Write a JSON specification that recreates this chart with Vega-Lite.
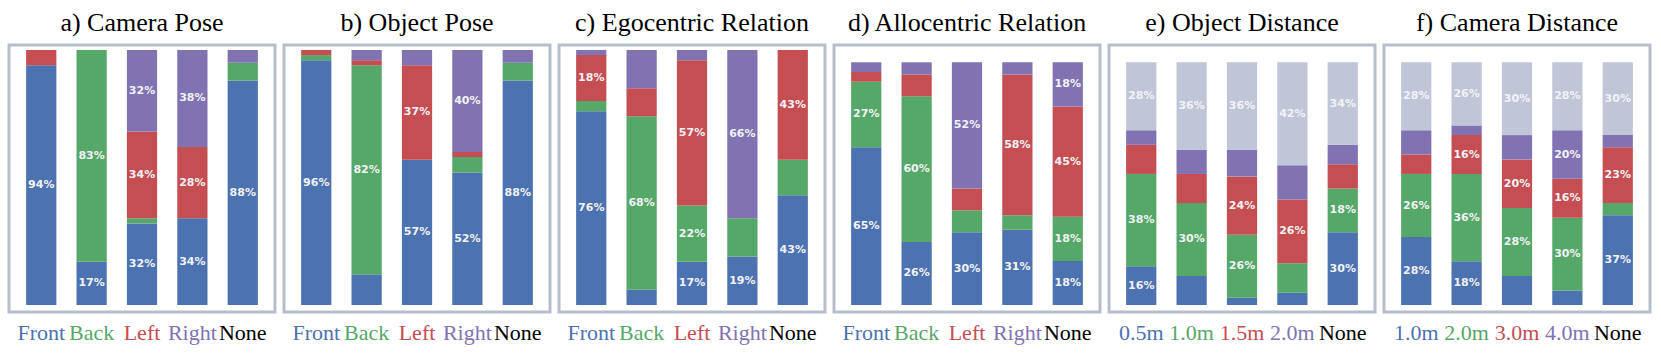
{
  "$schema": "https://vega.github.io/schema/vega-lite/v6.json",
  "padding": {"left": 7, "top": 8, "right": 0, "bottom": 0},
  "spacing": 9,
  "bounds": "flush",
  "background": "white",
  "config": {
    "view": {"stroke": "#b6bdcb", "strokeWidth": 3},
    "title": {"font": "Liberation Serif, DejaVu Serif, serif", "fontSize": 26, "fontWeight": "normal", "color": "black", "offset": 9, "anchor": "middle", "baseline": "alphabetic"},
    "text": {"font": "DejaVu Sans", "fontWeight": "bold", "fontSize": 11, "color": "#f2f2f6"}
  },
  "resolve": {"scale": {"color": "independent", "x": "independent", "y": "independent"}},
  "datasets": {
    "rows": [
      {"p": "a", "cat": "Front", "seg": "Front", "v": 0.94},
      {"p": "a", "cat": "Front", "seg": "Left", "v": 0.06},
      {"p": "a", "cat": "Back", "seg": "Front", "v": 0.17},
      {"p": "a", "cat": "Back", "seg": "Back", "v": 0.83},
      {"p": "a", "cat": "Left", "seg": "Front", "v": 0.32},
      {"p": "a", "cat": "Left", "seg": "Back", "v": 0.02},
      {"p": "a", "cat": "Left", "seg": "Left", "v": 0.34},
      {"p": "a", "cat": "Left", "seg": "Right", "v": 0.32},
      {"p": "a", "cat": "Right", "seg": "Front", "v": 0.34},
      {"p": "a", "cat": "Right", "seg": "Left", "v": 0.28},
      {"p": "a", "cat": "Right", "seg": "Right", "v": 0.38},
      {"p": "a", "cat": "None", "seg": "Front", "v": 0.88},
      {"p": "a", "cat": "None", "seg": "Back", "v": 0.07},
      {"p": "a", "cat": "None", "seg": "Right", "v": 0.05},

      {"p": "b", "cat": "Front", "seg": "Front", "v": 0.96},
      {"p": "b", "cat": "Front", "seg": "Back", "v": 0.02},
      {"p": "b", "cat": "Front", "seg": "Left", "v": 0.02},
      {"p": "b", "cat": "Back", "seg": "Front", "v": 0.12},
      {"p": "b", "cat": "Back", "seg": "Back", "v": 0.82},
      {"p": "b", "cat": "Back", "seg": "Left", "v": 0.02},
      {"p": "b", "cat": "Back", "seg": "Right", "v": 0.04},
      {"p": "b", "cat": "Left", "seg": "Front", "v": 0.57},
      {"p": "b", "cat": "Left", "seg": "Left", "v": 0.37},
      {"p": "b", "cat": "Left", "seg": "Right", "v": 0.06},
      {"p": "b", "cat": "Right", "seg": "Front", "v": 0.52},
      {"p": "b", "cat": "Right", "seg": "Back", "v": 0.06},
      {"p": "b", "cat": "Right", "seg": "Left", "v": 0.02},
      {"p": "b", "cat": "Right", "seg": "Right", "v": 0.40},
      {"p": "b", "cat": "None", "seg": "Front", "v": 0.88},
      {"p": "b", "cat": "None", "seg": "Back", "v": 0.07},
      {"p": "b", "cat": "None", "seg": "Right", "v": 0.05},

      {"p": "c", "cat": "Front", "seg": "Front", "v": 0.76},
      {"p": "c", "cat": "Front", "seg": "Back", "v": 0.04},
      {"p": "c", "cat": "Front", "seg": "Left", "v": 0.18},
      {"p": "c", "cat": "Front", "seg": "Right", "v": 0.02},
      {"p": "c", "cat": "Back", "seg": "Front", "v": 0.06},
      {"p": "c", "cat": "Back", "seg": "Back", "v": 0.68},
      {"p": "c", "cat": "Back", "seg": "Left", "v": 0.11},
      {"p": "c", "cat": "Back", "seg": "Right", "v": 0.15},
      {"p": "c", "cat": "Left", "seg": "Front", "v": 0.17},
      {"p": "c", "cat": "Left", "seg": "Back", "v": 0.22},
      {"p": "c", "cat": "Left", "seg": "Left", "v": 0.57},
      {"p": "c", "cat": "Left", "seg": "Right", "v": 0.04},
      {"p": "c", "cat": "Right", "seg": "Front", "v": 0.19},
      {"p": "c", "cat": "Right", "seg": "Back", "v": 0.15},
      {"p": "c", "cat": "Right", "seg": "Right", "v": 0.66},
      {"p": "c", "cat": "None", "seg": "Front", "v": 0.43},
      {"p": "c", "cat": "None", "seg": "Back", "v": 0.14},
      {"p": "c", "cat": "None", "seg": "Left", "v": 0.43},

      {"p": "d", "cat": "Front", "seg": "Front", "v": 0.65},
      {"p": "d", "cat": "Front", "seg": "Back", "v": 0.27},
      {"p": "d", "cat": "Front", "seg": "Left", "v": 0.04},
      {"p": "d", "cat": "Front", "seg": "Right", "v": 0.04},
      {"p": "d", "cat": "Back", "seg": "Front", "v": 0.26},
      {"p": "d", "cat": "Back", "seg": "Back", "v": 0.60},
      {"p": "d", "cat": "Back", "seg": "Left", "v": 0.09},
      {"p": "d", "cat": "Back", "seg": "Right", "v": 0.05},
      {"p": "d", "cat": "Left", "seg": "Front", "v": 0.30},
      {"p": "d", "cat": "Left", "seg": "Back", "v": 0.09},
      {"p": "d", "cat": "Left", "seg": "Left", "v": 0.09},
      {"p": "d", "cat": "Left", "seg": "Right", "v": 0.52},
      {"p": "d", "cat": "Right", "seg": "Front", "v": 0.31},
      {"p": "d", "cat": "Right", "seg": "Back", "v": 0.06},
      {"p": "d", "cat": "Right", "seg": "Left", "v": 0.58},
      {"p": "d", "cat": "Right", "seg": "Right", "v": 0.05},
      {"p": "d", "cat": "None", "seg": "Front", "v": 0.18},
      {"p": "d", "cat": "None", "seg": "Back", "v": 0.18},
      {"p": "d", "cat": "None", "seg": "Left", "v": 0.45},
      {"p": "d", "cat": "None", "seg": "Right", "v": 0.18},

      {"p": "e", "cat": "0.5m", "seg": "0.5m", "v": 0.16},
      {"p": "e", "cat": "0.5m", "seg": "1.0m", "v": 0.38},
      {"p": "e", "cat": "0.5m", "seg": "1.5m", "v": 0.12},
      {"p": "e", "cat": "0.5m", "seg": "2.0m", "v": 0.06},
      {"p": "e", "cat": "0.5m", "seg": "None", "v": 0.28},
      {"p": "e", "cat": "1.0m", "seg": "0.5m", "v": 0.12},
      {"p": "e", "cat": "1.0m", "seg": "1.0m", "v": 0.30},
      {"p": "e", "cat": "1.0m", "seg": "1.5m", "v": 0.12},
      {"p": "e", "cat": "1.0m", "seg": "2.0m", "v": 0.10},
      {"p": "e", "cat": "1.0m", "seg": "None", "v": 0.36},
      {"p": "e", "cat": "1.5m", "seg": "0.5m", "v": 0.03},
      {"p": "e", "cat": "1.5m", "seg": "1.0m", "v": 0.26},
      {"p": "e", "cat": "1.5m", "seg": "1.5m", "v": 0.24},
      {"p": "e", "cat": "1.5m", "seg": "2.0m", "v": 0.11},
      {"p": "e", "cat": "1.5m", "seg": "None", "v": 0.36},
      {"p": "e", "cat": "2.0m", "seg": "0.5m", "v": 0.05},
      {"p": "e", "cat": "2.0m", "seg": "1.0m", "v": 0.12},
      {"p": "e", "cat": "2.0m", "seg": "1.5m", "v": 0.26},
      {"p": "e", "cat": "2.0m", "seg": "2.0m", "v": 0.14},
      {"p": "e", "cat": "2.0m", "seg": "None", "v": 0.42},
      {"p": "e", "cat": "None", "seg": "0.5m", "v": 0.30},
      {"p": "e", "cat": "None", "seg": "1.0m", "v": 0.18},
      {"p": "e", "cat": "None", "seg": "1.5m", "v": 0.10},
      {"p": "e", "cat": "None", "seg": "2.0m", "v": 0.08},
      {"p": "e", "cat": "None", "seg": "None", "v": 0.34},

      {"p": "f", "cat": "1.0m", "seg": "1.0m", "v": 0.28},
      {"p": "f", "cat": "1.0m", "seg": "2.0m", "v": 0.26},
      {"p": "f", "cat": "1.0m", "seg": "3.0m", "v": 0.08},
      {"p": "f", "cat": "1.0m", "seg": "4.0m", "v": 0.10},
      {"p": "f", "cat": "1.0m", "seg": "None", "v": 0.28},
      {"p": "f", "cat": "2.0m", "seg": "1.0m", "v": 0.18},
      {"p": "f", "cat": "2.0m", "seg": "2.0m", "v": 0.36},
      {"p": "f", "cat": "2.0m", "seg": "3.0m", "v": 0.16},
      {"p": "f", "cat": "2.0m", "seg": "4.0m", "v": 0.04},
      {"p": "f", "cat": "2.0m", "seg": "None", "v": 0.26},
      {"p": "f", "cat": "3.0m", "seg": "1.0m", "v": 0.12},
      {"p": "f", "cat": "3.0m", "seg": "2.0m", "v": 0.28},
      {"p": "f", "cat": "3.0m", "seg": "3.0m", "v": 0.20},
      {"p": "f", "cat": "3.0m", "seg": "4.0m", "v": 0.10},
      {"p": "f", "cat": "3.0m", "seg": "None", "v": 0.30},
      {"p": "f", "cat": "4.0m", "seg": "1.0m", "v": 0.06},
      {"p": "f", "cat": "4.0m", "seg": "2.0m", "v": 0.30},
      {"p": "f", "cat": "4.0m", "seg": "3.0m", "v": 0.16},
      {"p": "f", "cat": "4.0m", "seg": "4.0m", "v": 0.20},
      {"p": "f", "cat": "4.0m", "seg": "None", "v": 0.28},
      {"p": "f", "cat": "None", "seg": "1.0m", "v": 0.37},
      {"p": "f", "cat": "None", "seg": "2.0m", "v": 0.05},
      {"p": "f", "cat": "None", "seg": "3.0m", "v": 0.23},
      {"p": "f", "cat": "None", "seg": "4.0m", "v": 0.05},
      {"p": "f", "cat": "None", "seg": "None", "v": 0.30}
    ]
  },
  "hconcat": [
    {
      "title": "a) Camera Pose",
      "width": 266, "height": 267,
      "data": {"name": "rows"},
      "transform": [
        {"filter": "datum.p == 'a'"},
        {"stack": "v", "groupby": ["cat"], "offset": "normalize", "as": ["y0", "y1"]},
        {"calculate": "(datum.y0 + datum.y1) / 2", "as": "ym"}
      ],
      "encoding": {
        "x": {"field": "cat", "type": "nominal", "sort": ["Front", "Back", "Left", "Right", "None"],
              "scale": {"paddingInner": 0.4, "paddingOuter": 0.34},
              "axis": {"title": null, "domain": false, "ticks": false, "labelAngle": 0, "labelFont": "Liberation Serif, DejaVu Serif, serif", "labelFontSize": 22, "labelPadding": 10,
                       "labelColor": {"condition": [{"test": "datum.value == 'Front'", "value": "#4c72b0"}, {"test": "datum.value == 'Back'", "value": "#55a868"}, {"test": "datum.value == 'Left'", "value": "#c44e52"}, {"test": "datum.value == 'Right'", "value": "#8172b2"}], "value": "black"}}}
      },
      "layer": [
        {"mark": {"type": "bar"},
         "encoding": {
           "y": {"field": "y0", "type": "quantitative", "scale": {"domain": [-0.02745, 1.0196], "nice": false}, "axis": null},
           "y2": {"field": "y1"},
           "color": {"field": "seg", "type": "nominal", "legend": null, "scale": {"domain": ["Front", "Back", "Left", "Right", "None"], "range": ["#4c72b0", "#55a868", "#c44e52", "#8172b2", "#c0c6d7"]}}
         }},
        {"transform": [{"filter": "datum.v >= 0.155"}],
         "mark": {"type": "text"},
         "encoding": {
           "y": {"field": "ym", "type": "quantitative", "axis": null},
           "text": {"field": "v", "type": "quantitative", "format": ".0%"}
         }}
      ]
    },
    {
      "title": "b) Object Pose",
      "width": 266, "height": 267,
      "data": {"name": "rows"},
      "transform": [
        {"filter": "datum.p == 'b'"},
        {"stack": "v", "groupby": ["cat"], "offset": "normalize", "as": ["y0", "y1"]},
        {"calculate": "(datum.y0 + datum.y1) / 2", "as": "ym"}
      ],
      "encoding": {
        "x": {"field": "cat", "type": "nominal", "sort": ["Front", "Back", "Left", "Right", "None"],
              "scale": {"paddingInner": 0.4, "paddingOuter": 0.34},
              "axis": {"title": null, "domain": false, "ticks": false, "labelAngle": 0, "labelFont": "Liberation Serif, DejaVu Serif, serif", "labelFontSize": 22, "labelPadding": 10,
                       "labelColor": {"condition": [{"test": "datum.value == 'Front'", "value": "#4c72b0"}, {"test": "datum.value == 'Back'", "value": "#55a868"}, {"test": "datum.value == 'Left'", "value": "#c44e52"}, {"test": "datum.value == 'Right'", "value": "#8172b2"}], "value": "black"}}}
      },
      "layer": [
        {"mark": {"type": "bar"},
         "encoding": {
           "y": {"field": "y0", "type": "quantitative", "scale": {"domain": [-0.02745, 1.0196], "nice": false}, "axis": null},
           "y2": {"field": "y1"},
           "color": {"field": "seg", "type": "nominal", "legend": null, "scale": {"domain": ["Front", "Back", "Left", "Right", "None"], "range": ["#4c72b0", "#55a868", "#c44e52", "#8172b2", "#c0c6d7"]}}
         }},
        {"transform": [{"filter": "datum.v >= 0.155"}],
         "mark": {"type": "text"},
         "encoding": {
           "y": {"field": "ym", "type": "quantitative", "axis": null},
           "text": {"field": "v", "type": "quantitative", "format": ".0%"}
         }}
      ]
    },
    {
      "title": "c) Egocentric Relation",
      "width": 266, "height": 267,
      "data": {"name": "rows"},
      "transform": [
        {"filter": "datum.p == 'c'"},
        {"stack": "v", "groupby": ["cat"], "offset": "normalize", "as": ["y0", "y1"]},
        {"calculate": "(datum.y0 + datum.y1) / 2", "as": "ym"}
      ],
      "encoding": {
        "x": {"field": "cat", "type": "nominal", "sort": ["Front", "Back", "Left", "Right", "None"],
              "scale": {"paddingInner": 0.4, "paddingOuter": 0.34},
              "axis": {"title": null, "domain": false, "ticks": false, "labelAngle": 0, "labelFont": "Liberation Serif, DejaVu Serif, serif", "labelFontSize": 22, "labelPadding": 10,
                       "labelColor": {"condition": [{"test": "datum.value == 'Front'", "value": "#4c72b0"}, {"test": "datum.value == 'Back'", "value": "#55a868"}, {"test": "datum.value == 'Left'", "value": "#c44e52"}, {"test": "datum.value == 'Right'", "value": "#8172b2"}], "value": "black"}}}
      },
      "layer": [
        {"mark": {"type": "bar"},
         "encoding": {
           "y": {"field": "y0", "type": "quantitative", "scale": {"domain": [-0.02745, 1.0196], "nice": false}, "axis": null},
           "y2": {"field": "y1"},
           "color": {"field": "seg", "type": "nominal", "legend": null, "scale": {"domain": ["Front", "Back", "Left", "Right", "None"], "range": ["#4c72b0", "#55a868", "#c44e52", "#8172b2", "#c0c6d7"]}}
         }},
        {"transform": [{"filter": "datum.v >= 0.155"}],
         "mark": {"type": "text"},
         "encoding": {
           "y": {"field": "ym", "type": "quantitative", "axis": null},
           "text": {"field": "v", "type": "quantitative", "format": ".0%"}
         }}
      ]
    },
    {
      "title": "d) Allocentric Relation",
      "width": 266, "height": 267,
      "data": {"name": "rows"},
      "transform": [
        {"filter": "datum.p == 'd'"},
        {"stack": "v", "groupby": ["cat"], "offset": "normalize", "as": ["y0", "y1"]},
        {"calculate": "(datum.y0 + datum.y1) / 2", "as": "ym"}
      ],
      "encoding": {
        "x": {"field": "cat", "type": "nominal", "sort": ["Front", "Back", "Left", "Right", "None"],
              "scale": {"paddingInner": 0.4, "paddingOuter": 0.34},
              "axis": {"title": null, "domain": false, "ticks": false, "labelAngle": 0, "labelFont": "Liberation Serif, DejaVu Serif, serif", "labelFontSize": 22, "labelPadding": 10,
                       "labelColor": {"condition": [{"test": "datum.value == 'Front'", "value": "#4c72b0"}, {"test": "datum.value == 'Back'", "value": "#55a868"}, {"test": "datum.value == 'Left'", "value": "#c44e52"}, {"test": "datum.value == 'Right'", "value": "#8172b2"}], "value": "black"}}}
      },
      "layer": [
        {"mark": {"type": "bar"},
         "encoding": {
           "y": {"field": "y0", "type": "quantitative", "scale": {"domain": [-0.0288, 1.0713], "nice": false}, "axis": null},
           "y2": {"field": "y1"},
           "color": {"field": "seg", "type": "nominal", "legend": null, "scale": {"domain": ["Front", "Back", "Left", "Right", "None"], "range": ["#4c72b0", "#55a868", "#c44e52", "#8172b2", "#c0c6d7"]}}
         }},
        {"transform": [{"filter": "datum.v >= 0.155"}],
         "mark": {"type": "text"},
         "encoding": {
           "y": {"field": "ym", "type": "quantitative", "axis": null},
           "text": {"field": "v", "type": "quantitative", "format": ".0%"}
         }}
      ]
    },
    {
      "title": "e) Object Distance",
      "width": 266, "height": 267,
      "data": {"name": "rows"},
      "transform": [
        {"filter": "datum.p == 'e'"},
        {"stack": "v", "groupby": ["cat"], "offset": "normalize", "as": ["y0", "y1"]},
        {"calculate": "(datum.y0 + datum.y1) / 2", "as": "ym"}
      ],
      "encoding": {
        "x": {"field": "cat", "type": "nominal", "sort": ["0.5m", "1.0m", "1.5m", "2.0m", "None"],
              "scale": {"paddingInner": 0.4, "paddingOuter": 0.34},
              "axis": {"title": null, "domain": false, "ticks": false, "labelAngle": 0, "labelFont": "Liberation Serif, DejaVu Serif, serif", "labelFontSize": 22, "labelPadding": 10,
                       "labelColor": {"condition": [{"test": "datum.value == '0.5m'", "value": "#4c72b0"}, {"test": "datum.value == '1.0m'", "value": "#55a868"}, {"test": "datum.value == '1.5m'", "value": "#c44e52"}, {"test": "datum.value == '2.0m'", "value": "#8172b2"}], "value": "black"}}}
      },
      "layer": [
        {"mark": {"type": "bar"},
         "encoding": {
           "y": {"field": "y0", "type": "quantitative", "scale": {"domain": [-0.0288, 1.0713], "nice": false}, "axis": null},
           "y2": {"field": "y1"},
           "color": {"field": "seg", "type": "nominal", "legend": null, "scale": {"domain": ["0.5m", "1.0m", "1.5m", "2.0m", "None"], "range": ["#4c72b0", "#55a868", "#c44e52", "#8172b2", "#c0c6d7"]}}
         }},
        {"transform": [{"filter": "datum.v >= 0.155"}],
         "mark": {"type": "text"},
         "encoding": {
           "y": {"field": "ym", "type": "quantitative", "axis": null},
           "text": {"field": "v", "type": "quantitative", "format": ".0%"}
         }}
      ]
    },
    {
      "title": "f) Camera Distance",
      "width": 266, "height": 267,
      "data": {"name": "rows"},
      "transform": [
        {"filter": "datum.p == 'f'"},
        {"stack": "v", "groupby": ["cat"], "offset": "normalize", "as": ["y0", "y1"]},
        {"calculate": "(datum.y0 + datum.y1) / 2", "as": "ym"}
      ],
      "encoding": {
        "x": {"field": "cat", "type": "nominal", "sort": ["1.0m", "2.0m", "3.0m", "4.0m", "None"],
              "scale": {"paddingInner": 0.4, "paddingOuter": 0.34},
              "axis": {"title": null, "domain": false, "ticks": false, "labelAngle": 0, "labelFont": "Liberation Serif, DejaVu Serif, serif", "labelFontSize": 22, "labelPadding": 10,
                       "labelColor": {"condition": [{"test": "datum.value == '1.0m'", "value": "#4c72b0"}, {"test": "datum.value == '2.0m'", "value": "#55a868"}, {"test": "datum.value == '3.0m'", "value": "#c44e52"}, {"test": "datum.value == '4.0m'", "value": "#8172b2"}], "value": "black"}}}
      },
      "layer": [
        {"mark": {"type": "bar"},
         "encoding": {
           "y": {"field": "y0", "type": "quantitative", "scale": {"domain": [-0.0288, 1.0713], "nice": false}, "axis": null},
           "y2": {"field": "y1"},
           "color": {"field": "seg", "type": "nominal", "legend": null, "scale": {"domain": ["1.0m", "2.0m", "3.0m", "4.0m", "None"], "range": ["#4c72b0", "#55a868", "#c44e52", "#8172b2", "#c0c6d7"]}}
         }},
        {"transform": [{"filter": "datum.v >= 0.155"}],
         "mark": {"type": "text"},
         "encoding": {
           "y": {"field": "ym", "type": "quantitative", "axis": null},
           "text": {"field": "v", "type": "quantitative", "format": ".0%"}
         }}
      ]
    }
  ]
}
